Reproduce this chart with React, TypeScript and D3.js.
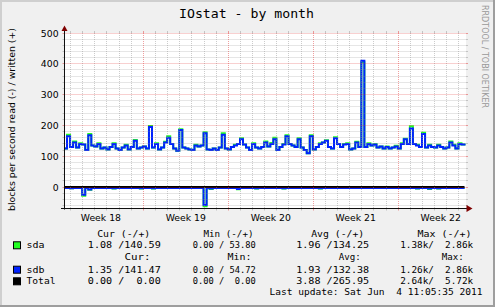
import React from 'react';
import * as d3 from 'd3';

const title = 'IOstat - by month';
const yLabel = 'blocks per second read (-) / written (+)';
const watermark = 'RRDTOOL / TOBI OETIKER';
const endTime = Date.UTC(2011, 5, 4, 11, 5, 35);
const spanDays = 33;
const stepHours = 6;
const yMajorTicks = [0, 100, 200, 300, 400, 500];
const yMinorTicks = [-60, -40, -20, 20, 40, 60, 80, 120, 140, 160, 180, 220, 240, 260, 280, 320, 340, 360, 380, 420, 440, 460, 480];

const sdbWrite = [
  125, 165, 130, 145, 128, 140, 138, 120, 168, 135,
  132, 140, 125, 128, 122, 130, 140, 125, 120, 128,
  135, 122, 130, 150, 125, 128, 132, 125, 195, 128,
  140, 122, 128, 145, 160, 140, 125, 118, 185, 128,
  125, 122, 120, 135, 132, 135, 175, 122, 120, 125,
  120, 128, 170, 125, 122, 130, 135, 140, 155, 138,
  128, 120, 140, 128, 125, 130, 145, 132, 140, 155,
  120, 130, 138, 165, 140, 135, 130, 155, 128, 120,
  110, 165, 122, 130, 140, 145, 150, 130, 125, 158,
  140, 130, 138, 140, 122, 125, 145, 130, 410, 130,
  140, 135, 138, 128, 132, 125, 130, 125, 128, 132,
  125, 140, 155, 140, 190, 140, 135, 130, 172, 128,
  135, 130, 128, 135, 130, 125, 128, 145, 135, 125,
  140, 138, 135,
];
const sdaWrite = [
  125, 170, 130, 148, 128, 142, 138, 120, 172, 135,
  132, 142, 125, 128, 122, 130, 142, 125, 120, 128,
  137, 122, 130, 153, 125, 128, 132, 125, 198, 128,
  142, 122, 128, 147, 165, 140, 125, 118, 188, 128,
  125, 122, 120, 137, 132, 135, 178, 122, 120, 125,
  120, 128, 175, 125, 122, 130, 137, 140, 158, 138,
  128, 120, 142, 128, 125, 130, 148, 132, 143, 160,
  120, 130, 140, 168, 140, 135, 130, 158, 128, 120,
  110, 168, 122, 130, 142, 145, 152, 130, 125, 162,
  140, 130, 140, 142, 122, 125, 147, 130, 405, 130,
  142, 135, 140, 128, 132, 125, 132, 125, 128, 134,
  125, 142, 157, 140, 197, 140, 137, 130, 176, 128,
  137, 130, 128, 137, 130, 125, 128, 148, 137, 125,
  142, 138, 135,
];
const sdbRead = [
  3, 3, 4, 3, 3, 3, 25, 3, 8, 3,
  3, 3, 3, 3, 3, 3, 4, 3, 3, 3,
  3, 3, 3, 3, 3, 4, 3, 3, 3, 4,
  3, 3, 3, 3, 3, 3, 3, 3, 3, 3,
  3, 3, 3, 3, 3, 3, 58, 3, 5, 3,
  3, 3, 3, 3, 3, 3, 3, 6, 3, 3,
  3, 3, 3, 4, 3, 3, 3, 3, 3, 3,
  3, 3, 4, 3, 3, 3, 3, 3, 3, 3,
  3, 3, 3, 3, 4, 3, 3, 3, 3, 3,
  3, 3, 3, 3, 3, 3, 3, 3, 3, 3,
  3, 3, 3, 3, 3, 3, 3, 3, 3, 3,
  3, 3, 3, 3, 3, 3, 4, 3, 3, 3,
  5, 3, 3, 4, 3, 3, 3, 3, 3, 3,
  3, 3, 3,
];
const sdaRead = [
  3, 3, 4, 3, 3, 3, 28, 3, 9, 3,
  3, 3, 3, 3, 3, 3, 5, 3, 3, 3,
  3, 3, 3, 3, 3, 5, 3, 3, 3, 5,
  3, 3, 3, 3, 3, 3, 3, 3, 3, 3,
  3, 3, 3, 3, 3, 3, 62, 3, 6, 3,
  3, 3, 3, 3, 3, 3, 3, 7, 3, 3,
  3, 3, 3, 5, 3, 3, 3, 3, 3, 3,
  3, 3, 5, 3, 3, 3, 3, 3, 3, 3,
  3, 3, 3, 3, 5, 3, 3, 3, 3, 3,
  3, 3, 3, 3, 3, 3, 3, 3, 3, 3,
  3, 3, 3, 3, 3, 3, 3, 3, 3, 3,
  3, 3, 3, 3, 3, 3, 5, 3, 3, 3,
  6, 3, 3, 5, 3, 3, 3, 3, 3, 3,
  3, 3, 3,
];
const totalLevel = 0;

const legendNames = ['sda', 'sdb', 'Total'];
const legendColors = ['#22ff22', '#0022ff', '#000000'];
const legendHeaders = ['Cur (-/+)', 'Min (-/+)', 'Avg (-/+)', 'Max (-/+)'];
const legendHeaders2 = ['Cur:', 'Min:', 'Avg:', 'Max:'];
const sdaStats = ['1.08 /140.59', '0.00 / 53.80', '1.96 /134.25', '1.38k/  2.86k'];
const sdbStats = ['1.35 /141.47', '0.00 / 54.72', '1.93 /132.38', '1.26k/  2.86k'];
const totalStats = ['0.00 /  0.00', '0.00 /  0.00', '3.88 /265.95', '2.64k/  5.72k'];
const lastUpdate = 'Last update: Sat Jun  4 11:05:35 2011';

const MONO = '"DejaVu Sans Mono", monospace';
const SANS = '"DejaVu Sans", sans-serif';

export default function App() {
  const W = 495, H = 307;
  const start = new Date(endTime - spanDays * 864e5);
  const end = new Date(endTime);
  const x = d3.scaleUtc().domain([start, end]).range([64, 464.5]);
  const y = d3.scaleLinear().domain([-68, 500]).range([208, 33]);
  const X0 = 64.5, X1 = 466, Y0 = 208.5, Y1 = 33;
  const px = (v: number) => Math.round(v - 0.5) + 0.5;
  const times = sdbWrite.map((_, i) => new Date(start.getTime() + i * stepHours * 36e5));

  const mk = (sign: number) =>
    d3.line<number>()
      .x((_, i) => x(times[i]))
      .y((v) => y(sign * v))
      .curve(d3.curveStepAfter);
  const up = mk(1);
  const down = mk(-1);
  const totalPath = d3.line<Date>().x((d) => x(d)).y(() => y(totalLevel))([start, end]);

  const days = d3.utcDay.range(start, end).filter((d) => d.getUTCDay() !== 1);
  const mondays = d3.utcMonday.range(start, end);
  const weekLabelDates = d3.utcMonday.range(d3.utcMonday.floor(start), end).map((d) => new Date(d.getTime() + 3.5 * 864e5));
  const weekFmt = (d: Date) => 'Week ' + d3.utcFormat('%V')(d);

  const gridMinor = 'rgba(143,143,143,0.46)';
  const gridMajor = 'rgba(222,48,48,0.46)';

  const colX = [
    { hdr: [97.2, 53], hdr2: [124.5, 26], val: [87.8, 73] },
    { hdr: [203.5, 50], hdr2: [227.5, 24], val: [192.8, 63] },
    { hdr: [311.2, 53], hdr2: [338.8, 22], val: [296.2, 73] },
    { hdr: [417.5, 54], hdr2: [441.8, 22], val: [400.2, 73] },
  ];
  const rowsY = [248.3, 272.7, 284.3];
  const stats = [sdaStats, sdbStats, totalStats];
  const nameLen = [18, 18, 29];

  return (
    <svg width={W} height={H} style={{ position: 'absolute', left: 0, top: 0 }}>
      <rect x={0} y={0} width={W} height={H} fill="#f0f0f0" />
      <path d={`M0,0H${W}V2H2V${H}H0Z`} fill="#cfcfcf" />
      <path d={`M${W},${H}H0V${H - 2}H${W - 2}V0H${W}Z`} fill="#9e9e9e" />
      <rect x={X0} y={Y1} width={X1 - X0} height={Y0 - Y1} fill="#ffffff" />

      {/* data */}
      <g fill="none" strokeWidth={2} strokeLinejoin="miter">
        <path d={up(sdaWrite) || ''} stroke={legendColors[0]} />
        <path d={down(sdaRead) || ''} stroke={legendColors[0]} />
        <path d={up(sdbWrite) || ''} stroke={legendColors[1]} />
        <path d={down(sdbRead) || ''} stroke={legendColors[1]} />
        <path d={totalPath || ''} stroke={legendColors[2]} />
      </g>

      {/* grid */}
      <g strokeWidth={1}>
        {yMinorTicks.map((v) => {
          const yy = px(y(v));
          return (
            <g key={'hm' + v} stroke={gridMinor}>
              <line x1={X0 - 2} x2={X0} y1={yy} y2={yy} />
              <line x1={X1} x2={X1 + 2} y1={yy} y2={yy} />
              <line x1={X0} x2={X1} y1={yy} y2={yy} strokeDasharray="1 1" />
            </g>
          );
        })}
        {days.map((d) => {
          const xx = px(x(d));
          return (
            <g key={'vm' + d.getTime()} stroke={gridMinor}>
              <line x1={xx} x2={xx} y1={Y0} y2={Y0 + 2} />
              <line x1={xx} x2={xx} y1={Y1 - 2} y2={Y1} />
              <line x1={xx} x2={xx} y1={Y1} y2={Y0} strokeDasharray="1 1" />
            </g>
          );
        })}
        {yMajorTicks.map((v) => {
          const yy = px(y(v));
          return (
            <g key={'hM' + v} stroke={gridMajor}>
              <line x1={X0 - 2} x2={X0} y1={yy} y2={yy} />
              <line x1={X1} x2={X1 + 2} y1={yy} y2={yy} />
              <line x1={X0} x2={X1} y1={yy} y2={yy} strokeDasharray="1 1" />
            </g>
          );
        })}
        {mondays.map((d) => {
          const xx = px(x(d));
          return (
            <g key={'vM' + d.getTime()} stroke={gridMajor}>
              <line x1={xx} x2={xx} y1={Y0} y2={Y0 + 2} />
              <line x1={xx} x2={xx} y1={Y1 - 2} y2={Y1} />
              <line x1={xx} x2={xx} y1={Y1} y2={Y0} strokeDasharray="1 1" />
            </g>
          );
        })}
      </g>

      {/* axes */}
      <line x1={X0} x2={X0} y1={Y0 + 1} y2={28} stroke="#101010" strokeWidth={1} />
      <line x1={61} x2={468} y1={Y0} y2={Y0} stroke="#101010" strokeWidth={1} />
      <path d={`M61.5,31L67.5,31L64.5,25.5Z`} fill="#7f0000" />
      <path d={`M466.5,205L466.5,212L472.5,208.5Z`} fill="#7f0000" />

      {/* y tick labels */}
      {yMajorTicks.map((v) => (
        <text key={'yl' + v} x={58.6} y={px(y(v)) + 3.3} textAnchor="end" fontFamily={SANS} fontSize={9.3} fill="#000">
          {v}
        </text>
      ))}
      {/* week labels */}
      {weekLabelDates
        .filter((d) => x(d) > 70 && x(d) < 470)
        .map((d) => (
          <text key={'wl' + d.getTime()} x={x(d)} y={220.7} textAnchor="middle" fontFamily={SANS} fontSize={9.3} fill="#000">
            {weekFmt(d)}
          </text>
        ))}

      {/* title */}
      <text x={246.5} y={18} textAnchor="middle" fontFamily={MONO} fontSize={12} textLength={135} lengthAdjust="spacingAndGlyphs" fill="#000">
        {title}
      </text>
      {/* y label */}
      <text transform="translate(14.5,119.5) rotate(-90)" textAnchor="middle" fontFamily={SANS} fontSize={9.3} textLength={183} lengthAdjust="spacingAndGlyphs" fill="#000">
        {yLabel}
      </text>
      {/* watermark */}
      <text transform="translate(482,5) rotate(90)" fontFamily={SANS} fontSize={8} textLength={103} lengthAdjust="spacingAndGlyphs" fill="#999999">
        {watermark}
      </text>

      {/* legend */}
      <g fontFamily={MONO} fontSize={8.5} fill="#000" style={{ whiteSpace: 'pre' }}>
        {legendHeaders.map((h, i) => (
          <text key={'h' + i} x={colX[i].hdr[0]} y={237.2} textLength={colX[i].hdr[1]} lengthAdjust="spacingAndGlyphs" xmlSpace="preserve">
            {h}
          </text>
        ))}
        {legendHeaders2.map((h, i) => (
          <text key={'h2' + i} x={colX[i].hdr2[0]} y={260} textLength={colX[i].hdr2[1]} lengthAdjust="spacingAndGlyphs">
            {h}
          </text>
        ))}
        {legendNames.map((n, r) => (
          <g key={'row' + n}>
            <rect x={13.5} y={rowsY[r] - 6.5} width={7} height={7} fill={legendColors[r]} stroke="#000" strokeWidth={1} />
            <text x={26.5} y={rowsY[r]} textLength={nameLen[r]} lengthAdjust="spacingAndGlyphs">
              {n}
            </text>
            {stats[r].map((s, c) => (
              <text key={c} x={colX[c].val[0]} y={rowsY[r]} textLength={colX[c].val[1]} lengthAdjust="spacingAndGlyphs" xmlSpace="preserve">
                {s}
              </text>
            ))}
          </g>
        ))}
        <text x={269.5} y={294.5} textLength={213} lengthAdjust="spacingAndGlyphs" xmlSpace="preserve">
          {lastUpdate}
        </text>
      </g>
    </svg>
  );
}
